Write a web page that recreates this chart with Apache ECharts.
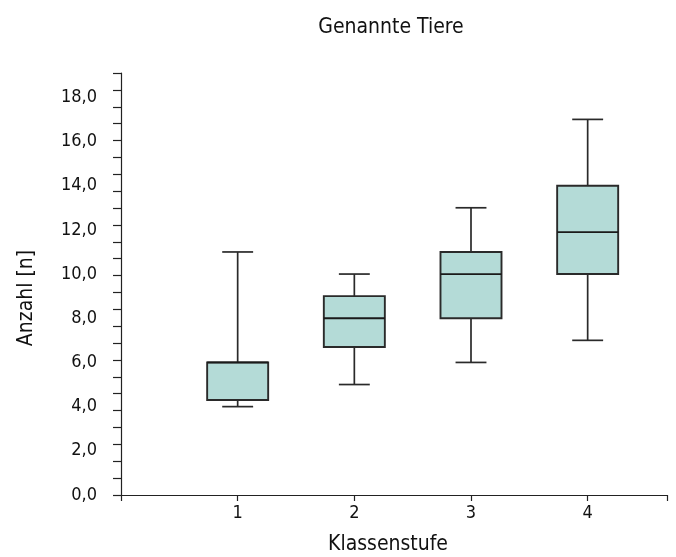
<!DOCTYPE html>
<html>
<head>
<meta charset="utf-8">
<script src="https://cdn.jsdelivr.net/npm/echarts@6/dist/echarts.min.js"></script>
<style>
html,body{margin:0;padding:0;background:#fff;}
#chart{width:676px;height:557px;}
</style>
</head>
<body>
<div id="chart"></div>
<script>
const categories = ['1', '2', '3', '4'];
const xPositions = [1, 2, 3, 4];
const minVals = [4.0, 5.0, 6.0, 7.0];
const q1Vals = [4.3, 6.7, 8.0, 10.0];
const medianVals = [6.0, 8.0, 10.0, 11.9];
const q3Vals = [6.0, 9.0, 11.0, 14.0];
const maxVals = [11.0, 10.0, 13.0, 17.0];

const FONT = '"Liberation Sans Narrow", "DejaVu Sans Condensed", "Noto Sans", sans-serif';

const boxData = xPositions.map((x, i) => [x, minVals[i], q1Vals[i], medianVals[i], q3Vals[i], maxVals[i]]);

function renderBox(params, api) {
  const x = api.value(0);
  const pMin = api.coord([x, api.value(1)]);
  const pQ1 = api.coord([x, api.value(2)]);
  const pMed = api.coord([x, api.value(3)]);
  const pQ3 = api.coord([x, api.value(4)]);
  const pMax = api.coord([x, api.value(5)]);
  const unit = api.size([1, 0])[0];
  const bw = unit * 0.523;
  const cw = unit * 0.265;
  const cx = pMed[0];
  const lineStyle = { stroke: '#2a2a2a', lineWidth: 1.7, fill: null };
  return {
    type: 'group',
    children: [
      { type: 'line', shape: { x1: cx, y1: pMin[1], x2: cx, y2: pQ1[1] }, style: lineStyle },
      { type: 'line', shape: { x1: cx, y1: pQ3[1], x2: cx, y2: pMax[1] }, style: lineStyle },
      { type: 'line', shape: { x1: cx - cw / 2, y1: pMin[1], x2: cx + cw / 2, y2: pMin[1] }, style: lineStyle },
      { type: 'line', shape: { x1: cx - cw / 2, y1: pMax[1], x2: cx + cw / 2, y2: pMax[1] }, style: lineStyle },
      { type: 'rect', shape: { x: cx - bw / 2, y: pQ3[1], width: bw, height: pQ1[1] - pQ3[1] },
        style: { fill: '#b4dbd7', stroke: '#2a2a2a', lineWidth: 1.9 } },
      { type: 'line', shape: { x1: cx - bw / 2, y1: pMed[1], x2: cx + bw / 2, y2: pMed[1] },
        style: { stroke: '#1a1a1a', lineWidth: 1.8 } }
    ]
  };
}

const chart = echarts.init(document.getElementById('chart'));
chart.setOption({
  animation: false,
  backgroundColor: '#fff',
  title: {
    text: 'Genannte Tiere',
    left: 386,
    top: 12,
    textAlign: 'center',
    textStyle: { fontFamily: FONT, fontSize: 21, fontWeight: 'normal', color: '#111' }
  },
  graphic: [{
    type: 'text',
    x: 27,
    y: 298,
    rotation: Math.PI / 2,
    style: {
      text: 'Anzahl [n]',
      fontFamily: FONT, fontSize: 21, fill: '#111',
      textAlign: 'center', textVerticalAlign: 'middle'
    }
  }],
  grid: { left: 121, right: 9, top: 73, bottom: 62, outerBoundsMode: 'none' },
  xAxis: {
    type: 'value',
    min: 0,
    max: 4.68,
    interval: 1,
    name: 'Klassenstufe',
    nameLocation: 'middle',
    nameGap: 39,
    nameTextStyle: { fontFamily: FONT, fontSize: 21, color: '#111', padding: [0, 12, 0, 0] },
    axisLine: { lineStyle: { color: '#222', width: 1.2 } },
    axisTick: { show: true, length: 6, lineStyle: { color: '#222', width: 1.2 } },
    axisLabel: {
      fontFamily: FONT, fontSize: 18, color: '#111', margin: 9,
      formatter: function (v) { return categories.indexOf(String(v)) >= 0 ? String(v) : ''; }
    },
    splitLine: { show: false }
  },
  yAxis: [
    {
      type: 'value',
      min: 0,
      max: 19.1,
      interval: 0.764,
      axisLine: { show: true, lineStyle: { color: '#222', width: 1.2 } },
      axisTick: { show: true, length: 8, lineStyle: { color: '#222', width: 1.2 } },
      axisLabel: { show: false },
      splitLine: { show: false }
    },
    {
      type: 'value',
      min: 0,
      max: 19.1,
      interval: 2,
      position: 'left',
      axisLine: { show: false },
      axisTick: { show: false },
      axisLabel: {
        fontFamily: FONT, fontSize: 18, color: '#111', margin: 24,
        showMaxLabel: false,
        formatter: function (v) { return Math.abs(v / 2 - Math.round(v / 2)) < 1e-6 ? v.toFixed(1).replace('.', ',') : ''; }
      },
      splitLine: { show: false }
    }
  ],
  series: [{
    type: 'custom',
    renderItem: renderBox,
    data: boxData,
    encode: { x: 0, y: [1, 2, 3, 4, 5] },
    clip: false
  }]
});
</script>
</body>
</html>
